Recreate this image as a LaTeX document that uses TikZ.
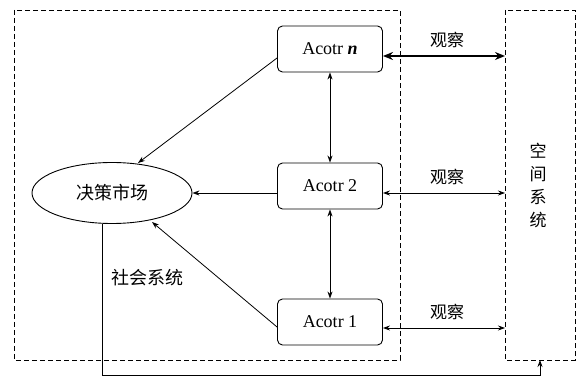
\documentclass[tikz,border=0pt]{standalone}
\usepackage{fontspec}
\setmainfont{Liberation Serif}
\newfontfamily\cjk{Noto Sans CJK SC}
\usetikzlibrary{arrows.meta,shapes.geometric}
\begin{document}
\begin{tikzpicture}[x=1pt,y=-1pt,
  actor/.style={draw,rounded corners=5pt,minimum width=105pt,minimum height=46pt,font=\fontsize{18}{20}\selectfont,line width=0.9pt},
  frame/.style={draw,dashed,dash pattern=on 5pt off 3pt,line width=0.9pt},
  arr/.style={-{Stealth[length=7pt,width=5pt]},line width=0.8pt},
  darr/.style={{Stealth[length=7pt,width=5pt]}-{Stealth[length=7pt,width=5pt]},line width=0.8pt},
  tarr/.style={{Stealth[length=10pt,width=8pt]}-{Stealth[length=10pt,width=8pt]},line width=1.7pt},
  lbl/.style={font=\cjk\fontsize{17}{19}\selectfont}]
\useasboundingbox (0,0) rectangle (582,377);
\draw[frame] (14,10) rectangle (400,360);
\draw[frame] (505,10) rectangle (575,360);
\node[actor] (an) at (330,49) {Acotr \textbf{\textit{n}}};
\node[actor] (a2) at (330,186) {Acotr 2};
\node[actor] (a1) at (330,322) {Acotr 1};
\node[draw,ellipse,minimum width=160pt,minimum height=61pt,line width=0.9pt,font=\cjk\fontsize{18}{20}\selectfont] (mk) at (112,193) {决策市场};
\node[align=center,font=\cjk\fontsize{17}{23}\selectfont] (sp) at (538,185) {空\\间\\系\\统};
\coordinate (sn) at (505,56);
\coordinate (s2) at (505,193);
\coordinate (s1) at (505,328);
\draw[tarr] (an.east |- sn) -- (sn);
\draw[darr] (a2.east |- s2) -- (s2);
\draw[darr] (a1.east |- s1) -- (s1);
\node[lbl] (o1) at (447,40) {观察};
\node[lbl] (o2) at (447,177) {观察};
\node[lbl] (o3) at (447,312) {观察};
\draw[darr] (an.south) -- (a2.north);
\draw[darr] (a2.south) -- (a1.north);
\draw[arr] (an.west |- 0,58) -- (138,163);
\draw[arr] (a2.west |- 0,193) -- (mk.east);
\draw[arr] (a1.west |- 0,327) -- (152,222);
\coordinate (fb) at (540,360);
\draw[arr] (102,224) -- (102,375) -- (540,375) -- (fb);
\node[font=\cjk\fontsize{18}{20}\selectfont] (soc) at (147,278) {社会系统};
\end{tikzpicture}
\end{document}
